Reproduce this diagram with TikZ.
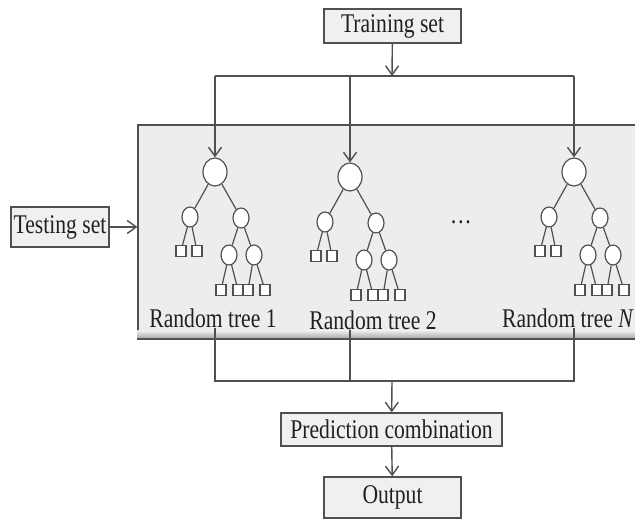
\documentclass[tikz,border=0pt]{standalone}
\usepackage{fontspec}
\setmainfont{Liberation Serif}[FakeStretch=0.8]
\usetikzlibrary{arrows.meta, shapes.geometric, positioning}

\definecolor{boxgray}{HTML}{EFF0EF}
\definecolor{panelgray}{HTML}{ECEEED}
\definecolor{linegray}{HTML}{505050}
\definecolor{textgray}{HTML}{202020}

\tikzset{
  >={Straight Barb[length=4.5pt,width=6.5pt]},
  every node/.style={font=\fontsize{13.5}{15}\selectfont, text=textgray},
  box/.style={draw=linegray, fill=boxgray, line width=0.7pt, inner sep=0pt},
  conn/.style={draw=linegray, line width=0.7pt},
  rootnode/.style={ellipse, draw=linegray, fill=white, line width=0.6pt, inner sep=0pt, minimum width=12pt, minimum height=14pt},
  innode/.style={ellipse, draw=linegray, fill=white, line width=0.6pt, inner sep=0pt, minimum width=8pt, minimum height=10pt},
  leafnode/.style={rectangle, draw=linegray, fill=white, line width=0.6pt, inner sep=0pt, minimum width=5pt, minimum height=5.5pt}
}

\begin{document}
\begin{tikzpicture}[x=0.5pt, y=-0.5pt]
        \useasboundingbox (0,0) rectangle (635,519);

        % Panneau gris des arbres
        \node[draw=linegray, fill=panelgray, line width=0.6pt, minimum width=253.5pt, minimum height=106.5pt, inner sep=0pt] (panel) at (391.5,231.5) {};
        \shade[top color=panelgray, bottom color=gray!70] ([yshift=4pt]panel.south west) rectangle (panel.south east);
        \draw[linegray, line width=1.1pt] (panel.south west) -- (panel.south east);

        % Boites
        \node[box, minimum width=68.5pt, minimum height=17pt] (train) at (392.5,26) {Training set};
        \node[box, minimum width=49pt, minimum height=20pt] (test) at (60,227) {Testing set};
        \node[box, minimum width=110.5pt, minimum height=16.5pt] (pred) at (391.5,429.5) {Prediction combination};
        \node[box, minimum width=68.5pt, minimum height=20.5pt] (out) at (392.5,497.5) {Output};

        % Arbres aleatoires
        \foreach \t/\x/\y in {1/215/172, 2/350/177, N/574/172} {
          \begin{scope}[shift={(\x,\y)}]
            \node[rootnode] (r\t) at (0,0) {};
            \node[innode] (a\t) at (-25,45) {};
            \node[innode] (b\t) at (26,46) {};
            \node[leafnode] (aa\t) at (-34,79) {};
            \node[leafnode] (ab\t) at (-18,79) {};
            \node[innode] (ba\t) at (14,83) {};
            \node[innode] (bb\t) at (39,83) {};
            \node[leafnode] (baa\t) at (6,118) {};
            \node[leafnode] (bab\t) at (23,118) {};
            \node[leafnode] (bba\t) at (33,118) {};
            \node[leafnode] (bbb\t) at (50,118) {};
            \draw[linegray, line width=0.6pt] (r\t) -- (a\t) (r\t) -- (b\t)
              (a\t) -- (aa\t) (a\t) -- (ab\t)
              (b\t) -- (ba\t) (b\t) -- (bb\t)
              (ba\t) -- (baa\t) (ba\t) -- (bab\t)
              (bb\t) -- (bba\t) (bb\t) -- (bbb\t);
          \end{scope}
        }

        % Etiquettes des arbres
        \node[inner sep=0pt] (l1) at (213,318) {Random tree 1};
        \node[inner sep=0pt] (l2) at (373,320) {Random tree 2};
        \node[inner sep=0pt] (lN) at (568,318) {Random tree \textit{N}};
        \node (dots) at (461,222) {\dots};

        % Connexions du haut
        \coordinate (bus) at (392,76);
        \draw[conn, ->] (train) -- (bus);
        \draw[conn] (r1 |- bus) -- (rN |- bus);
        \draw[conn, ->] (r1 |- bus) -- (r1);
        \draw[conn, ->] (r2 |- bus) -- (r2);
        \draw[conn, ->] (rN |- bus) -- (rN);
        \draw[conn, ->] (test) -- (test -| panel.west);

        % Connexions du bas
        \coordinate (sum) at (392,381);
        \draw[conn] (r1 |- l1.south) -- (r1 |- sum) -- (rN |- sum) -- (rN |- lN.south);
        \draw[conn] (r2 |- l2.south) -- (r2 |- sum);
        \draw[conn, ->] (sum) -- (pred);
        \draw[conn, ->] (pred) -- (out);

    \end{tikzpicture}
\end{document}
